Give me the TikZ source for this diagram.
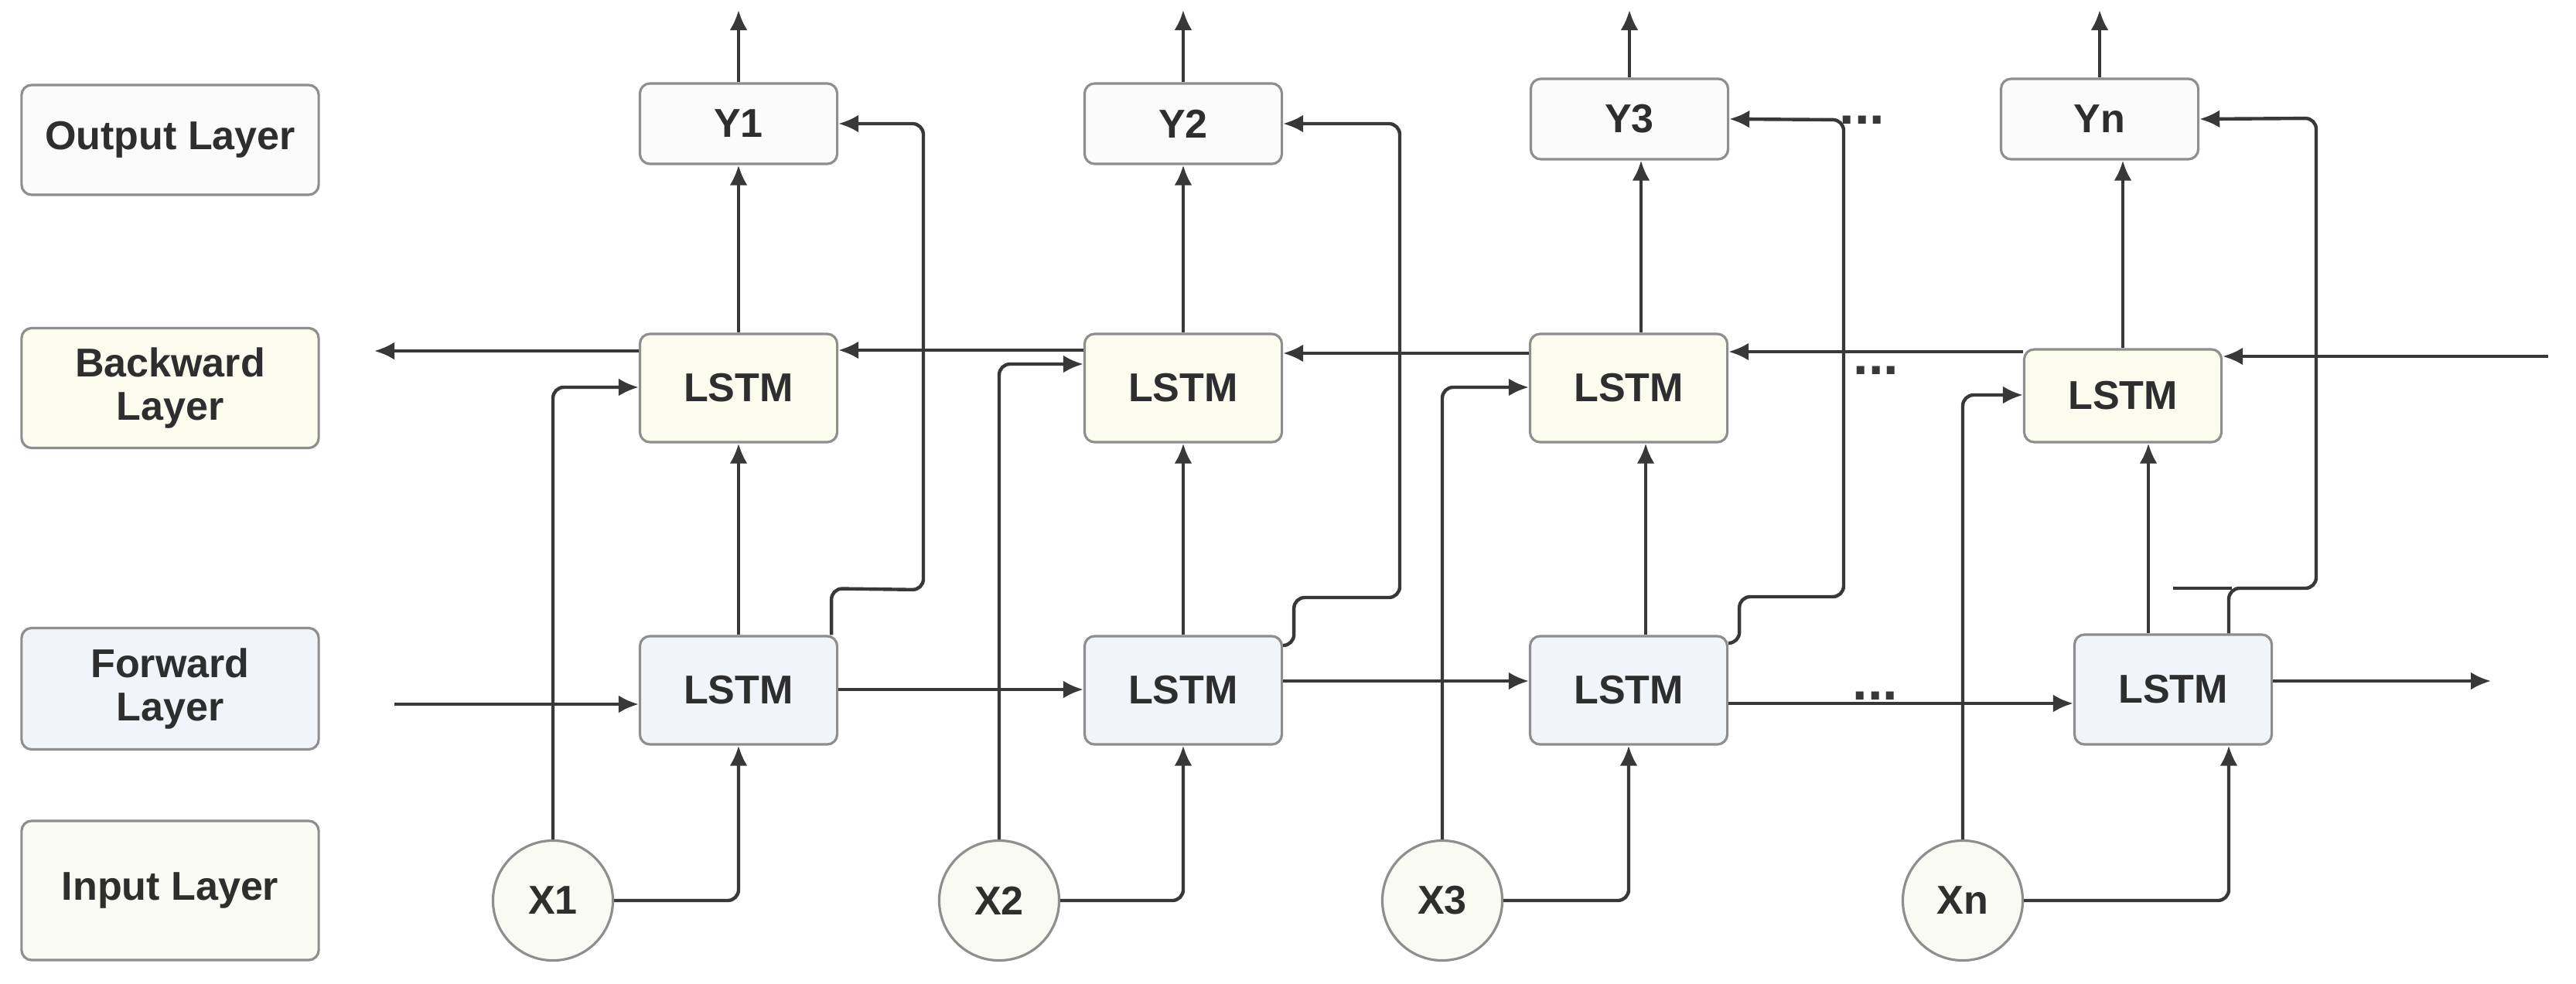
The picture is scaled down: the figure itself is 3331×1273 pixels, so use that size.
\documentclass[tikz,border=0pt]{standalone}
\usepackage{fontspec}
\setmainfont{Liberation Sans}
\usetikzlibrary{arrows.meta}
\definecolor{ln}{HTML}{383838}
\definecolor{bd}{HTML}{8E8E8E}
\definecolor{fout}{HTML}{FCFBFC}
\definecolor{fbwd}{HTML}{FCFCEE}
\definecolor{ffwd}{HTML}{F1F5FA}
\definecolor{finp}{HTML}{F8FAF3}
\definecolor{txt}{HTML}{2E2E2E}
\begin{document}
\begin{tikzpicture}[x=0.01cm,y=-0.01cm,
  box/.style={draw=bd, line width=0.9pt, rounded corners=0.13cm, text=txt,
    font=\fontsize{14.8}{15.8}\selectfont\bfseries, align=center, inner sep=0pt},
  ybox/.style={box, fill=fout, minimum width=2.55cm, minimum height=1.04cm},
  bbox/.style={box, fill=fbwd, minimum width=2.55cm, minimum height=1.40cm},
  fbox/.style={box, fill=ffwd, minimum width=2.55cm, minimum height=1.40cm},
  xin/.style={circle, draw=bd, line width=0.9pt, fill=finp, minimum size=1.55cm,
    inner sep=0pt, text=txt, font=\fontsize{14.8}{15.8}\selectfont\bfseries},
  lab/.style={box, minimum width=3.84cm},
  dots/.style={text=ln, font=\fontsize{20}{20}\selectfont\bfseries, inner sep=0pt, anchor=base},
  conn/.style={draw=ln, line width=1.25pt},
  arr/.style={conn, -{Latex[length=0.26cm,width=0.23cm]}},
  rc/.style={rounded corners=0.14cm}]
\fill[white] (0,0) rectangle (3331,1273);
\useasboundingbox (0,0) rectangle (3331,1273);

% layer labels
\node[lab, fill=fout, minimum height=1.42cm] (lo) at (220,181) {Output Layer};
\node[lab, fill=fbwd, minimum height=1.55cm] (lb) at (220,502) {Backward\\Layer};
\node[lab, fill=ffwd, minimum height=1.57cm] (lf) at (220,891) {Forward\\Layer};
\node[lab, fill=finp, minimum height=1.80cm] (li) at (220,1152) {Input Layer};

% outputs
\node[ybox] (y1) at (955,160) {Y1};
\node[ybox] (y2) at (1530,160) {Y2};
\node[ybox] (y3) at (2107,154) {Y3};
\node[ybox] (yn) at (2715,154) {Yn};
% backward
\node[bbox] (b1) at (955,502) {LSTM};
\node[bbox] (b2) at (1530,502) {LSTM};
\node[bbox] (b3) at (2106,502) {LSTM};
\node[bbox, minimum height=1.20cm] (bn) at (2745,512) {LSTM};
% forward
\node[fbox] (f1) at (955,893) {LSTM};
\node[fbox] (f2) at (1530,893) {LSTM};
\node[fbox] (f3) at (2106,893) {LSTM};
\node[fbox, minimum height=1.42cm] (fn) at (2810,892) {LSTM};
% inputs
\node[xin] (x1) at (715,1165) {X1};
\node[xin] (x2) at (1292,1165) {X2};
\node[xin] (x3) at (1865,1165) {X3};
\node[xin] (xn) at (2538,1165) {Xn};

% free ends
\coordinate (o1) at (955,13);
\coordinate (o2) at (1530,13);
\coordinate (o3) at (2107,13);
\coordinate (on) at (2715,13);
\coordinate (bl) at (484,454);
\coordinate (br) at (3295,461);
\coordinate (fl) at (510,911);
\coordinate (fr) at (3221,881);
\coordinate (stub) at (2810,761);

% outputs upward
\draw[arr] (y1.north) -- (o1);
\draw[arr] (y2.north) -- (o2);
\draw[arr] (y3.north) -- (o3);
\draw[arr] (yn.north) -- (on);

% backward -> output
\draw[arr] (b1.north) -- (y1.south);
\draw[arr] (b2.north) -- (y2.south);
\draw[arr] (b3.north -| 2122,0) -- (y3.south -| 2122,0);
\draw[arr] (bn.north) -- (yn.south -| bn.north);

% forward -> backward
\draw[arr] (f1.north) -- (b1.south);
\draw[arr] (f2.north) -- (b2.south);
\draw[arr] (f3.north -| 2128,0) -- (b3.south -| 2128,0);
\draw[arr] (fn.north -| 2778,0) -- (bn.south -| 2778,0);

% forward -> output (skip)
\draw[arr,rc] ([xshift=-0.09cm]f1.north east) -- ++(0,-60) -- (1194,763) -- (1194,160) -- (y1.east);
\draw[arr,rc] (f2.east |- 0,835) -- ++(14,0) -- ++(0,-62) -- (1810,773) -- (1810,160) -- (y2.east);
\draw[arr,rc] (f3.east |- 0,832) -- ++(14,0) -- ++(0,-60) -- (2384,772) -- (2384,155) -- (y3.east);
\draw[arr,rc] (fn.north -| 2882,0) -- (2882,761) -- (2995,761) -- (2995,153) -- (yn.east);
\draw[conn] (stub) -- (2886,761);

% backward chain
\draw[arr] (br) -- (bn.east |- 0,461);
\draw[arr] (bn.west |- 0,455) -- (b3.east |- 0,455);
\draw[arr] (b3.west |- 0,457) -- (b2.east |- 0,457);
\draw[arr] (b2.west |- 0,453) -- (b1.east |- 0,453);
\draw[arr] (b1.west |- 0,454) -- (bl);

% forward chain
\draw[arr] (fl) -- (f1.west |- 0,911);
\draw[arr] (f1.east |- 0,892) -- (f2.west |- 0,892);
\draw[arr] (f2.east |- 0,881) -- (f3.west |- 0,881);
\draw[arr] (f3.east |- 0,910) -- (fn.west |- 0,910);
\draw[arr] (fn.east |- 0,881) -- (fr);

% inputs -> backward
\draw[arr,rc] (x1.north) -- (x1.north |- 0,501) -- (b1.west |- 0,501);
\draw[arr,rc] (x2.north) -- (x2.north |- 0,471) -- (b2.west |- 0,471);
\draw[arr,rc] (x3.north) -- (x3.north |- 0,501) -- (b3.west |- 0,501);
\draw[arr,rc] (xn.north) -- (xn.north |- 0,511) -- (bn.west |- 0,511);

% inputs -> forward
\draw[arr,rc] (x1.east) -| (f1.south);
\draw[arr,rc] (x2.east) -| (f2.south);
\draw[arr,rc] (x3.east) -| (f3.south);
\draw[arr,rc] (xn.east) -| (fn.south -| 2882,0);

% ellipses
\node[dots] (d1) at (2408,161) {...};
\node[dots] (d2) at (2426,484) {...};
\node[dots] (d3) at (2425,905) {...};
\end{tikzpicture}
\end{document}
